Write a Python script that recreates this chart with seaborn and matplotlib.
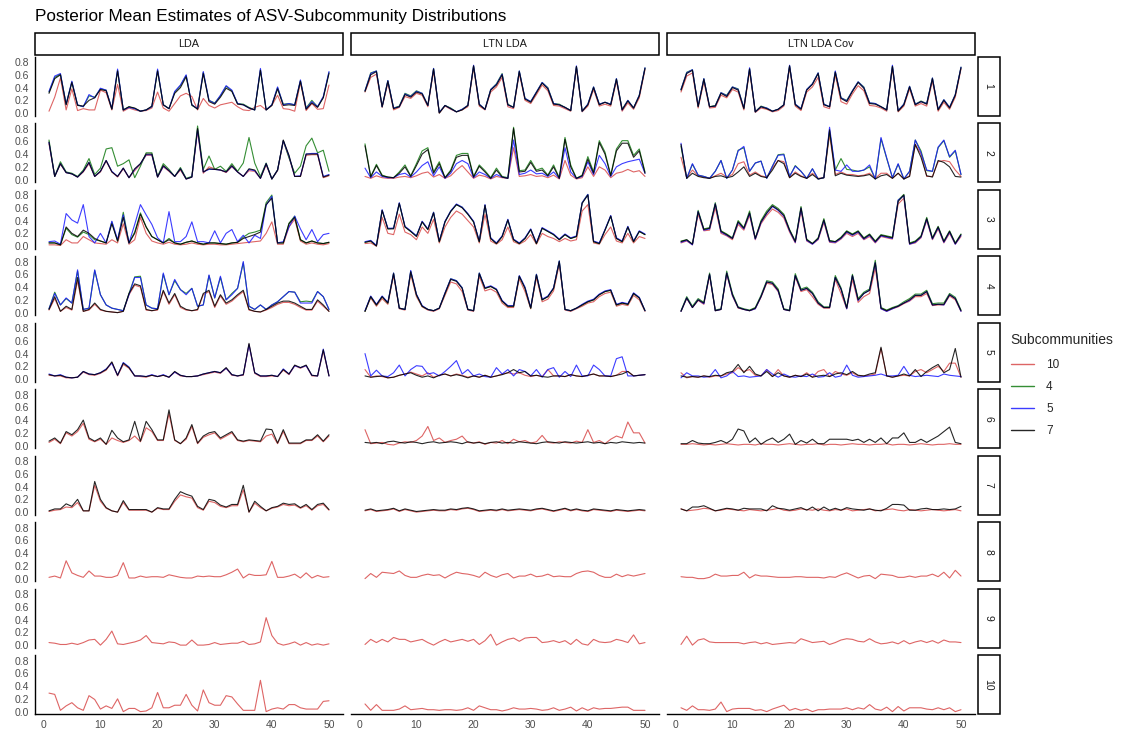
import matplotlib
matplotlib.use("Agg")
import matplotlib.pyplot as plt
import numpy as np
import pandas as pd
import seaborn as sns
from matplotlib.patches import Rectangle
from matplotlib.lines import Line2D

asv = list(range(1, 51))
methods = ["LDA", "LTN LDA", "LTN LDA Cov"]
subcomm_levels = ["10", "4", "5", "7"]
row_labels = [str(i) for i in range(1, 11)]
y_ticks = [0.0, 0.2, 0.4, 0.6, 0.8]
x_ticks = [0, 10, 20, 30, 40, 50]

# ---------------- Row 1 ----------------
lda_r1_k10 = [0.03,0.25,0.55,0.05,0.38,0.04,0.07,0.05,0.05,0.36,0.32,0.05,0.45,0.03,0.08,0.05,0.03,0.04,0.08,0.33,0.08,0.03,0.15,0.27,0.31,0.26,0.05,0.23,0.12,0.08,0.13,0.15,0.17,0.10,0.05,0.04,0.09,0.12,0.05,0.12,0.28,0.07,0.06,0.03,0.48,0.04,0.15,0.06,0.07,0.44]
lda_r1_k4 = [0.33,0.56,0.61,0.14,0.49,0.13,0.10,0.27,0.25,0.38,0.36,0.07,0.67,0.05,0.10,0.07,0.03,0.05,0.10,0.67,0.13,0.07,0.33,0.43,0.59,0.12,0.07,0.64,0.20,0.16,0.27,0.42,0.35,0.15,0.14,0.09,0.05,0.68,0.05,0.13,0.40,0.14,0.15,0.13,0.51,0.08,0.20,0.10,0.25,0.64]
lda_r1_k5 = [0.34,0.58,0.62,0.14,0.50,0.13,0.10,0.29,0.24,0.39,0.36,0.07,0.69,0.05,0.09,0.07,0.03,0.05,0.10,0.69,0.13,0.07,0.34,0.44,0.60,0.13,0.07,0.65,0.20,0.15,0.28,0.43,0.36,0.15,0.13,0.08,0.05,0.70,0.05,0.13,0.41,0.13,0.15,0.13,0.52,0.07,0.18,0.10,0.26,0.65]
lda_r1_k7 = [0.31,0.54,0.60,0.13,0.48,0.12,0.11,0.20,0.24,0.37,0.35,0.06,0.66,0.05,0.10,0.08,0.03,0.05,0.11,0.66,0.13,0.07,0.31,0.40,0.57,0.13,0.06,0.62,0.18,0.14,0.25,0.39,0.34,0.14,0.13,0.08,0.05,0.67,0.05,0.12,0.38,0.12,0.13,0.12,0.50,0.06,0.16,0.09,0.24,0.62]

ltn_r1_k10 = [0.33,0.56,0.61,0.09,0.47,0.05,0.09,0.26,0.23,0.31,0.28,0.10,0.66,0.00,0.11,0.06,0.02,0.05,0.10,0.71,0.11,0.05,0.33,0.41,0.56,0.10,0.07,0.62,0.20,0.15,0.29,0.44,0.35,0.12,0.11,0.07,0.03,0.70,0.02,0.11,0.37,0.11,0.14,0.11,0.50,0.03,0.16,0.06,0.24,0.68]
ltn_r1_k4 = [0.35,0.63,0.66,0.10,0.51,0.08,0.11,0.31,0.27,0.35,0.31,0.12,0.70,0.01,0.12,0.08,0.02,0.06,0.12,0.74,0.14,0.06,0.37,0.46,0.62,0.14,0.09,0.66,0.23,0.18,0.33,0.48,0.40,0.15,0.14,0.09,0.04,0.73,0.03,0.14,0.41,0.14,0.17,0.14,0.54,0.06,0.20,0.08,0.28,0.71]
ltn_r1_k5 = [0.35,0.62,0.66,0.10,0.51,0.08,0.10,0.30,0.26,0.34,0.31,0.12,0.70,0.01,0.12,0.07,0.02,0.06,0.12,0.75,0.14,0.06,0.37,0.45,0.61,0.13,0.09,0.66,0.23,0.18,0.33,0.48,0.39,0.15,0.13,0.09,0.04,0.74,0.03,0.14,0.41,0.14,0.17,0.14,0.54,0.05,0.20,0.08,0.28,0.71]
ltn_r1_k7 = [0.34,0.60,0.65,0.10,0.50,0.07,0.10,0.29,0.25,0.33,0.30,0.12,0.69,0.00,0.12,0.07,0.02,0.05,0.12,0.74,0.13,0.06,0.36,0.44,0.60,0.13,0.09,0.65,0.22,0.17,0.32,0.47,0.38,0.14,0.13,0.09,0.04,0.73,0.03,0.13,0.40,0.13,0.17,0.13,0.53,0.05,0.19,0.08,0.27,0.70]

cov_r1_k10 = [0.33,0.58,0.63,0.08,0.49,0.08,0.09,0.28,0.24,0.37,0.33,0.05,0.66,0.01,0.08,0.06,0.02,0.04,0.11,0.71,0.11,0.04,0.33,0.41,0.56,0.10,0.07,0.60,0.18,0.14,0.30,0.43,0.35,0.12,0.11,0.08,0.03,0.70,0.02,0.11,0.38,0.11,0.15,0.11,0.50,0.03,0.17,0.06,0.25,0.69]
cov_r1_k4 = [0.37,0.64,0.68,0.11,0.54,0.10,0.12,0.32,0.28,0.41,0.38,0.08,0.70,0.02,0.11,0.08,0.03,0.06,0.13,0.74,0.14,0.07,0.37,0.46,0.63,0.14,0.10,0.65,0.24,0.20,0.35,0.49,0.41,0.16,0.15,0.10,0.05,0.74,0.04,0.14,0.42,0.14,0.19,0.15,0.55,0.06,0.21,0.09,0.29,0.72]
cov_r1_k5 = [0.37,0.63,0.68,0.11,0.54,0.10,0.11,0.32,0.27,0.41,0.37,0.08,0.71,0.02,0.10,0.08,0.03,0.06,0.13,0.75,0.14,0.07,0.37,0.46,0.63,0.14,0.10,0.66,0.24,0.19,0.35,0.49,0.40,0.16,0.15,0.10,0.05,0.75,0.04,0.14,0.42,0.14,0.18,0.15,0.55,0.06,0.21,0.09,0.29,0.72]
cov_r1_k7 = [0.36,0.62,0.67,0.10,0.53,0.10,0.11,0.31,0.26,0.40,0.36,0.07,0.69,0.02,0.10,0.07,0.03,0.06,0.13,0.74,0.13,0.06,0.36,0.45,0.62,0.13,0.10,0.64,0.23,0.18,0.34,0.48,0.39,0.15,0.14,0.10,0.05,0.73,0.03,0.13,0.41,0.13,0.18,0.14,0.54,0.05,0.20,0.08,0.28,0.71]

# ---------------- Row 2 ----------------
lda_r2_k10 = [0.56,0.05,0.24,0.11,0.09,0.04,0.12,0.25,0.05,0.12,0.29,0.12,0.04,0.17,0.03,0.14,0.24,0.38,0.38,0.04,0.20,0.13,0.05,0.15,0.01,0.04,0.76,0.10,0.20,0.17,0.15,0.11,0.20,0.12,0.05,0.14,0.13,0.02,0.23,0.01,0.14,0.60,0.35,0.05,0.05,0.38,0.39,0.39,0.03,0.06]
lda_r2_k4 = [0.62,0.05,0.28,0.12,0.10,0.05,0.15,0.33,0.08,0.18,0.48,0.50,0.21,0.25,0.31,0.03,0.21,0.42,0.42,0.05,0.25,0.16,0.05,0.19,0.02,0.05,0.84,0.16,0.37,0.16,0.21,0.13,0.25,0.13,0.26,0.66,0.26,0.05,0.26,0.01,0.15,0.61,0.34,0.10,0.21,0.53,0.65,0.42,0.46,0.13]
lda_r2_k5 = [0.58,0.05,0.25,0.11,0.09,0.04,0.13,0.27,0.05,0.13,0.30,0.13,0.05,0.18,0.03,0.16,0.25,0.39,0.39,0.04,0.21,0.14,0.05,0.17,0.01,0.04,0.78,0.12,0.16,0.16,0.15,0.12,0.21,0.12,0.05,0.16,0.14,0.02,0.25,0.01,0.15,0.61,0.37,0.05,0.06,0.40,0.41,0.41,0.05,0.08]
lda_r2_k7 = [0.59,0.05,0.25,0.11,0.09,0.04,0.13,0.27,0.05,0.13,0.30,0.12,0.05,0.18,0.03,0.17,0.25,0.40,0.40,0.04,0.22,0.14,0.05,0.17,0.01,0.04,0.80,0.12,0.17,0.16,0.15,0.12,0.22,0.12,0.05,0.17,0.15,0.02,0.25,0.01,0.15,0.62,0.38,0.05,0.05,0.40,0.40,0.40,0.04,0.07]

ltn_r2_k10 = [0.05,0.02,0.06,0.03,0.02,0.02,0.04,0.05,0.03,0.06,0.10,0.12,0.04,0.08,0.02,0.06,0.15,0.22,0.12,0.02,0.07,0.05,0.01,0.05,0.03,0.02,0.50,0.05,0.06,0.08,0.05,0.06,0.03,0.07,0.01,0.30,0.07,0.01,0.03,0.20,0.05,0.20,0.15,0.03,0.10,0.12,0.16,0.12,0.14,0.05]
ltn_r2_k4 = [0.56,0.05,0.24,0.07,0.04,0.03,0.12,0.23,0.06,0.25,0.45,0.50,0.12,0.28,0.03,0.15,0.38,0.41,0.41,0.05,0.23,0.14,0.03,0.18,0.05,0.03,0.82,0.14,0.15,0.30,0.15,0.18,0.07,0.23,0.03,0.66,0.23,0.02,0.07,0.36,0.12,0.61,0.43,0.07,0.48,0.61,0.61,0.38,0.48,0.12]
ltn_r2_k5 = [0.18,0.03,0.12,0.05,0.03,0.03,0.08,0.10,0.04,0.12,0.22,0.28,0.06,0.20,0.02,0.10,0.25,0.30,0.25,0.03,0.12,0.08,0.02,0.08,0.04,0.02,0.62,0.08,0.10,0.15,0.09,0.10,0.05,0.12,0.02,0.50,0.12,0.02,0.05,0.28,0.08,0.38,0.25,0.05,0.20,0.25,0.28,0.30,0.32,0.10]
ltn_r2_k7 = [0.53,0.04,0.22,0.06,0.04,0.03,0.10,0.20,0.05,0.22,0.40,0.47,0.10,0.25,0.03,0.13,0.35,0.38,0.38,0.04,0.21,0.12,0.02,0.15,0.04,0.02,0.80,0.12,0.13,0.27,0.13,0.15,0.06,0.20,0.02,0.63,0.20,0.02,0.06,0.32,0.10,0.58,0.40,0.06,0.45,0.57,0.57,0.35,0.45,0.10]

cov_r2_k10 = [0.35,0.03,0.15,0.06,0.04,0.02,0.06,0.10,0.04,0.08,0.25,0.28,0.07,0.12,0.06,0.04,0.18,0.30,0.28,0.03,0.12,0.06,0.02,0.10,0.02,0.03,0.70,0.08,0.12,0.08,0.08,0.06,0.07,0.10,0.02,0.10,0.10,0.02,0.10,0.01,0.06,0.55,0.40,0.05,0.05,0.28,0.30,0.28,0.15,0.05]
cov_r2_k4 = [0.52,0.02,0.24,0.07,0.05,0.02,0.13,0.30,0.02,0.15,0.46,0.50,0.13,0.26,0.29,0.02,0.21,0.39,0.40,0.05,0.22,0.13,0.02,0.17,0.01,0.03,0.76,0.15,0.33,0.16,0.15,0.13,0.15,0.20,0.01,0.64,0.33,0.03,0.24,0.01,0.13,0.62,0.45,0.14,0.13,0.50,0.61,0.35,0.45,0.08]
cov_r2_k5 = [0.57,0.02,0.25,0.07,0.05,0.02,0.13,0.30,0.02,0.15,0.45,0.52,0.13,0.26,0.29,0.02,0.21,0.38,0.39,0.05,0.21,0.13,0.02,0.17,0.01,0.03,0.82,0.15,0.13,0.23,0.13,0.13,0.15,0.23,0.01,0.66,0.34,0.03,0.25,0.01,0.13,0.62,0.42,0.15,0.13,0.51,0.62,0.36,0.46,0.08]
cov_r2_k7 = [0.55,0.02,0.10,0.05,0.03,0.02,0.05,0.06,0.03,0.05,0.12,0.20,0.05,0.10,0.05,0.03,0.15,0.30,0.25,0.03,0.10,0.05,0.02,0.08,0.01,0.03,0.78,0.06,0.10,0.07,0.06,0.05,0.06,0.08,0.01,0.06,0.08,0.02,0.10,0.01,0.05,0.55,0.35,0.06,0.04,0.30,0.27,0.20,0.05,0.04]

# ---------------- Row 3 ----------------
lda_r3_k10 = [0.02,0.02,0.01,0.10,0.05,0.05,0.15,0.10,0.05,0.04,0.03,0.10,0.05,0.35,0.03,0.10,0.45,0.20,0.08,0.05,0.03,0.06,0.03,0.02,0.03,0.05,0.03,0.02,0.03,0.03,0.02,0.02,0.03,0.04,0.05,0.06,0.07,0.08,0.20,0.38,0.03,0.03,0.30,0.42,0.08,0.03,0.05,0.03,0.02,0.04]
lda_r3_k4 = [0.05,0.05,0.02,0.28,0.18,0.14,0.22,0.18,0.10,0.08,0.05,0.38,0.08,0.53,0.05,0.22,0.52,0.30,0.15,0.10,0.05,0.12,0.05,0.03,0.06,0.08,0.05,0.03,0.05,0.05,0.04,0.03,0.05,0.06,0.14,0.20,0.22,0.25,0.68,0.80,0.05,0.05,0.36,0.47,0.10,0.05,0.08,0.05,0.04,0.06]
lda_r3_k5 = [0.07,0.08,0.03,0.51,0.41,0.36,0.65,0.15,0.05,0.20,0.05,0.39,0.10,0.49,0.05,0.34,0.65,0.49,0.34,0.13,0.05,0.54,0.07,0.07,0.15,0.38,0.07,0.07,0.05,0.24,0.05,0.20,0.26,0.07,0.17,0.05,0.17,0.12,0.64,0.78,0.05,0.07,0.30,0.47,0.27,0.10,0.26,0.07,0.18,0.20]
lda_r3_k7 = [0.05,0.05,0.02,0.30,0.20,0.15,0.25,0.20,0.12,0.08,0.05,0.35,0.08,0.45,0.05,0.20,0.50,0.30,0.15,0.10,0.05,0.10,0.05,0.03,0.06,0.08,0.05,0.03,0.05,0.05,0.04,0.03,0.05,0.06,0.12,0.15,0.18,0.22,0.65,0.75,0.05,0.05,0.35,0.45,0.10,0.05,0.08,0.05,0.04,0.06]

ltn_r3_k10 = [0.04,0.05,0.00,0.45,0.20,0.18,0.50,0.22,0.18,0.10,0.30,0.20,0.42,0.05,0.30,0.45,0.55,0.50,0.40,0.30,0.05,0.50,0.08,0.03,0.10,0.30,0.07,0.03,0.08,0.18,0.03,0.20,0.15,0.12,0.07,0.12,0.08,0.10,0.55,0.65,0.05,0.03,0.18,0.30,0.08,0.05,0.20,0.05,0.15,0.12]
ltn_r3_k4 = [0.06,0.08,0.01,0.56,0.27,0.28,0.67,0.30,0.23,0.16,0.38,0.26,0.53,0.07,0.38,0.55,0.65,0.61,0.50,0.38,0.07,0.64,0.12,0.04,0.15,0.41,0.10,0.04,0.12,0.26,0.04,0.28,0.23,0.18,0.10,0.18,0.12,0.15,0.68,0.81,0.07,0.04,0.25,0.47,0.12,0.07,0.30,0.07,0.23,0.18]
ltn_r3_k5 = [0.07,0.09,0.01,0.57,0.28,0.28,0.68,0.31,0.24,0.16,0.39,0.27,0.53,0.08,0.39,0.55,0.66,0.61,0.51,0.39,0.08,0.65,0.13,0.05,0.16,0.42,0.11,0.05,0.13,0.27,0.05,0.29,0.24,0.19,0.11,0.19,0.13,0.16,0.68,0.81,0.08,0.05,0.26,0.48,0.13,0.08,0.31,0.08,0.24,0.19]
ltn_r3_k7 = [0.06,0.08,0.00,0.56,0.27,0.27,0.67,0.30,0.23,0.15,0.38,0.26,0.52,0.07,0.38,0.54,0.65,0.60,0.50,0.38,0.07,0.64,0.12,0.04,0.15,0.41,0.10,0.04,0.12,0.26,0.04,0.28,0.23,0.18,0.10,0.18,0.12,0.15,0.67,0.80,0.07,0.04,0.25,0.47,0.12,0.07,0.30,0.07,0.23,0.18]

cov_r3_k10 = [0.05,0.08,0.02,0.50,0.24,0.25,0.60,0.20,0.16,0.10,0.34,0.25,0.48,0.10,0.35,0.48,0.58,0.53,0.44,0.22,0.05,0.55,0.08,0.03,0.10,0.37,0.06,0.05,0.11,0.20,0.15,0.20,0.10,0.15,0.05,0.15,0.13,0.11,0.66,0.75,0.03,0.05,0.13,0.40,0.10,0.27,0.05,0.20,0.03,0.15]
cov_r3_k4 = [0.08,0.10,0.03,0.56,0.27,0.29,0.68,0.24,0.19,0.13,0.40,0.29,0.55,0.12,0.40,0.55,0.65,0.59,0.50,0.26,0.08,0.62,0.11,0.04,0.13,0.43,0.09,0.07,0.14,0.24,0.19,0.24,0.13,0.19,0.08,0.18,0.16,0.14,0.72,0.81,0.05,0.08,0.16,0.45,0.13,0.31,0.08,0.24,0.05,0.19]
cov_r3_k5 = [0.06,0.09,0.02,0.54,0.25,0.27,0.66,0.22,0.17,0.12,0.37,0.27,0.51,0.11,0.37,0.51,0.62,0.56,0.47,0.24,0.06,0.59,0.09,0.03,0.11,0.40,0.07,0.06,0.12,0.22,0.17,0.22,0.11,0.17,0.06,0.16,0.14,0.12,0.72,0.79,0.03,0.06,0.14,0.42,0.11,0.29,0.06,0.22,0.03,0.17]
cov_r3_k7 = [0.07,0.10,0.03,0.54,0.26,0.28,0.66,0.23,0.18,0.12,0.38,0.28,0.52,0.12,0.38,0.52,0.63,0.57,0.48,0.25,0.07,0.60,0.10,0.04,0.12,0.41,0.08,0.07,0.13,0.23,0.18,0.23,0.12,0.18,0.07,0.17,0.15,0.13,0.70,0.80,0.04,0.07,0.15,0.43,0.12,0.30,0.07,0.23,0.04,0.18]

# ---------------- Row 4 ----------------
lda_r4_k10 = [0.04,0.22,0.02,0.08,0.04,0.50,0.02,0.04,0.13,0.04,0.02,0.01,0.00,0.02,0.28,0.43,0.40,0.04,0.03,0.04,0.33,0.13,0.28,0.08,0.04,0.03,0.04,0.28,0.33,0.08,0.26,0.13,0.18,0.26,0.33,0.04,0.02,0.01,0.04,0.08,0.13,0.16,0.16,0.13,0.08,0.04,0.04,0.18,0.10,0.02]
lda_r4_k4 = [0.06,0.32,0.12,0.22,0.15,0.65,0.05,0.07,0.66,0.28,0.12,0.07,0.05,0.03,0.30,0.56,0.57,0.12,0.07,0.06,0.60,0.28,0.50,0.36,0.30,0.38,0.10,0.12,0.58,0.23,0.55,0.20,0.30,0.38,0.78,0.10,0.05,0.12,0.05,0.12,0.17,0.25,0.33,0.32,0.17,0.18,0.17,0.33,0.25,0.05]
lda_r4_k5 = [0.06,0.30,0.12,0.23,0.15,0.67,0.05,0.07,0.67,0.28,0.12,0.07,0.05,0.03,0.28,0.55,0.55,0.12,0.07,0.06,0.62,0.28,0.52,0.36,0.28,0.38,0.10,0.12,0.59,0.23,0.57,0.20,0.28,0.38,0.80,0.10,0.05,0.12,0.05,0.12,0.17,0.25,0.33,0.32,0.15,0.15,0.15,0.33,0.25,0.05]
lda_r4_k7 = [0.05,0.25,0.02,0.10,0.05,0.55,0.02,0.05,0.15,0.05,0.02,0.01,0.00,0.02,0.30,0.45,0.42,0.05,0.03,0.05,0.35,0.15,0.30,0.10,0.05,0.03,0.05,0.30,0.35,0.10,0.28,0.15,0.20,0.28,0.35,0.05,0.02,0.01,0.05,0.10,0.15,0.18,0.18,0.15,0.10,0.05,0.05,0.20,0.12,0.02]

ltn_r4_k10 = [0.02,0.23,0.10,0.22,0.13,0.58,0.06,0.04,0.60,0.25,0.09,0.04,0.02,0.06,0.27,0.48,0.45,0.33,0.04,0.02,0.57,0.34,0.37,0.32,0.15,0.08,0.08,0.53,0.33,0.06,0.55,0.17,0.21,0.34,0.76,0.04,0.02,0.06,0.10,0.15,0.17,0.25,0.30,0.32,0.10,0.13,0.11,0.27,0.20,0.02]
ltn_r4_k4 = [0.02,0.25,0.12,0.25,0.15,0.62,0.07,0.05,0.65,0.28,0.10,0.05,0.03,0.07,0.30,0.53,0.50,0.39,0.05,0.03,0.62,0.38,0.41,0.36,0.18,0.10,0.10,0.57,0.39,0.07,0.60,0.20,0.25,0.38,0.81,0.05,0.03,0.07,0.12,0.17,0.20,0.28,0.33,0.35,0.12,0.15,0.13,0.30,0.23,0.03]
ltn_r4_k5 = [0.03,0.26,0.13,0.26,0.16,0.62,0.07,0.05,0.66,0.29,0.11,0.05,0.03,0.07,0.31,0.53,0.50,0.39,0.05,0.03,0.62,0.39,0.42,0.37,0.19,0.11,0.11,0.58,0.40,0.08,0.60,0.21,0.26,0.39,0.81,0.05,0.03,0.07,0.13,0.18,0.21,0.29,0.34,0.36,0.13,0.16,0.14,0.31,0.24,0.03]
ltn_r4_k7 = [0.02,0.25,0.12,0.25,0.15,0.61,0.07,0.05,0.64,0.28,0.10,0.05,0.03,0.07,0.30,0.52,0.49,0.38,0.05,0.03,0.61,0.38,0.41,0.36,0.18,0.10,0.10,0.57,0.38,0.07,0.59,0.20,0.25,0.38,0.80,0.05,0.03,0.07,0.12,0.17,0.20,0.28,0.33,0.35,0.12,0.15,0.13,0.30,0.23,0.03]

cov_r4_k10 = [0.02,0.22,0.08,0.19,0.13,0.58,0.03,0.05,0.60,0.26,0.07,0.05,0.03,0.06,0.24,0.46,0.44,0.33,0.05,0.03,0.56,0.33,0.36,0.25,0.13,0.07,0.07,0.52,0.30,0.06,0.52,0.16,0.25,0.30,0.70,0.06,0.02,0.06,0.09,0.14,0.18,0.25,0.25,0.30,0.11,0.12,0.12,0.26,0.20,0.02]
cov_r4_k4 = [0.03,0.25,0.10,0.22,0.16,0.62,0.04,0.06,0.65,0.30,0.09,0.06,0.04,0.08,0.27,0.50,0.48,0.37,0.06,0.04,0.61,0.37,0.40,0.32,0.17,0.09,0.09,0.58,0.39,0.08,0.60,0.22,0.32,0.37,0.82,0.08,0.04,0.08,0.11,0.17,0.22,0.29,0.29,0.35,0.14,0.15,0.15,0.30,0.24,0.04]
cov_r4_k5 = [0.02,0.23,0.08,0.20,0.14,0.60,0.03,0.05,0.62,0.27,0.08,0.05,0.03,0.06,0.25,0.48,0.46,0.34,0.05,0.03,0.58,0.35,0.38,0.30,0.15,0.08,0.08,0.55,0.37,0.06,0.58,0.19,0.30,0.35,0.78,0.06,0.02,0.06,0.10,0.15,0.19,0.27,0.27,0.33,0.12,0.13,0.12,0.28,0.22,0.02]
cov_r4_k7 = [0.02,0.23,0.08,0.20,0.15,0.60,0.03,0.05,0.62,0.28,0.08,0.05,0.03,0.07,0.25,0.48,0.46,0.35,0.05,0.03,0.58,0.35,0.38,0.30,0.15,0.08,0.08,0.55,0.37,0.07,0.58,0.20,0.30,0.35,0.78,0.07,0.03,0.07,0.10,0.15,0.20,0.27,0.27,0.33,0.12,0.13,0.13,0.28,0.22,0.03]

# ---------------- Row 5 ----------------
lda_r5_k10 = [0.06,0.05,0.05,0.02,0.02,0.03,0.11,0.07,0.06,0.09,0.14,0.26,0.05,0.23,0.17,0.05,0.04,0.03,0.06,0.04,0.06,0.03,0.11,0.05,0.04,0.04,0.05,0.07,0.09,0.11,0.09,0.17,0.06,0.05,0.06,0.54,0.09,0.04,0.04,0.05,0.04,0.14,0.07,0.21,0.17,0.21,0.05,0.05,0.44,0.05]
lda_r5_k5 = [0.08,0.05,0.07,0.03,0.02,0.03,0.12,0.08,0.07,0.10,0.16,0.25,0.06,0.26,0.19,0.05,0.05,0.04,0.07,0.04,0.07,0.03,0.11,0.06,0.04,0.04,0.05,0.08,0.10,0.12,0.10,0.17,0.07,0.05,0.07,0.54,0.10,0.05,0.05,0.06,0.04,0.16,0.08,0.21,0.18,0.21,0.06,0.05,0.47,0.05]
lda_r5_k7 = [0.07,0.05,0.06,0.03,0.02,0.03,0.12,0.08,0.07,0.10,0.15,0.27,0.06,0.25,0.18,0.05,0.05,0.04,0.06,0.04,0.06,0.03,0.12,0.06,0.04,0.04,0.05,0.08,0.10,0.12,0.10,0.18,0.07,0.05,0.07,0.56,0.10,0.05,0.05,0.06,0.04,0.15,0.08,0.22,0.18,0.22,0.06,0.05,0.46,0.05]

ltn_r5_k10 = [0.15,0.03,0.05,0.04,0.02,0.03,0.06,0.08,0.11,0.08,0.05,0.10,0.03,0.06,0.08,0.05,0.08,0.06,0.03,0.05,0.03,0.06,0.03,0.05,0.08,0.10,0.08,0.10,0.06,0.04,0.06,0.04,0.15,0.05,0.05,0.04,0.07,0.05,0.04,0.06,0.08,0.05,0.05,0.04,0.06,0.12,0.12,0.05,0.06,0.07]
ltn_r5_k5 = [0.40,0.05,0.14,0.05,0.04,0.10,0.22,0.05,0.15,0.21,0.20,0.08,0.10,0.05,0.12,0.20,0.29,0.08,0.15,0.05,0.08,0.04,0.03,0.18,0.08,0.15,0.05,0.15,0.12,0.05,0.15,0.03,0.15,0.18,0.03,0.12,0.04,0.22,0.05,0.05,0.22,0.15,0.05,0.05,0.32,0.35,0.05,0.05,0.06,0.07]
ltn_r5_k7 = [0.05,0.03,0.04,0.05,0.02,0.03,0.06,0.08,0.10,0.06,0.03,0.05,0.02,0.06,0.08,0.05,0.07,0.05,0.02,0.05,0.03,0.06,0.03,0.05,0.07,0.10,0.15,0.10,0.12,0.05,0.06,0.04,0.03,0.05,0.05,0.04,0.07,0.05,0.04,0.06,0.08,0.05,0.05,0.04,0.06,0.08,0.12,0.05,0.06,0.07]

cov_r5_k10 = [0.10,0.02,0.04,0.03,0.05,0.03,0.05,0.05,0.08,0.10,0.18,0.12,0.15,0.06,0.05,0.15,0.04,0.15,0.05,0.03,0.06,0.04,0.10,0.03,0.12,0.15,0.04,0.12,0.08,0.06,0.10,0.05,0.05,0.06,0.08,0.48,0.05,0.03,0.05,0.06,0.05,0.12,0.15,0.10,0.15,0.20,0.12,0.25,0.25,0.03]
cov_r5_k5 = [0.02,0.10,0.05,0.05,0.03,0.04,0.15,0.02,0.05,0.12,0.04,0.05,0.03,0.04,0.05,0.15,0.08,0.03,0.08,0.04,0.03,0.05,0.04,0.08,0.03,0.04,0.10,0.03,0.05,0.22,0.06,0.03,0.04,0.05,0.06,0.08,0.05,0.05,0.06,0.20,0.06,0.04,0.05,0.06,0.05,0.04,0.08,0.06,0.05,0.04]
cov_r5_k7 = [0.05,0.03,0.04,0.03,0.05,0.04,0.06,0.05,0.10,0.12,0.23,0.10,0.20,0.08,0.05,0.12,0.04,0.10,0.05,0.03,0.06,0.04,0.08,0.03,0.05,0.06,0.04,0.08,0.10,0.07,0.12,0.06,0.05,0.08,0.10,0.50,0.05,0.03,0.05,0.08,0.05,0.15,0.04,0.12,0.18,0.23,0.10,0.15,0.48,0.03]

# ---------------- Row 6 ----------------
lda_r6_k10 = [0.05,0.10,0.03,0.20,0.15,0.22,0.35,0.10,0.06,0.10,0.02,0.12,0.08,0.05,0.08,0.15,0.06,0.28,0.22,0.08,0.08,0.50,0.08,0.03,0.10,0.30,0.03,0.13,0.17,0.20,0.10,0.15,0.20,0.08,0.06,0.08,0.07,0.06,0.15,0.18,0.03,0.22,0.03,0.03,0.03,0.08,0.08,0.15,0.06,0.15]
lda_r6_k7 = [0.07,0.12,0.04,0.22,0.17,0.25,0.40,0.12,0.07,0.12,0.02,0.24,0.12,0.06,0.09,0.38,0.07,0.38,0.25,0.09,0.09,0.56,0.09,0.03,0.12,0.33,0.04,0.15,0.20,0.22,0.12,0.17,0.22,0.09,0.07,0.09,0.08,0.07,0.26,0.25,0.04,0.25,0.04,0.04,0.04,0.09,0.09,0.17,0.07,0.17]

ltn_r6_k10 = [0.25,0.03,0.04,0.05,0.02,0.01,0.04,0.06,0.05,0.08,0.15,0.30,0.08,0.12,0.05,0.08,0.10,0.15,0.05,0.04,0.06,0.02,0.05,0.04,0.08,0.03,0.10,0.06,0.08,0.04,0.06,0.16,0.05,0.04,0.06,0.05,0.04,0.07,0.05,0.25,0.05,0.08,0.03,0.10,0.15,0.12,0.37,0.20,0.20,0.04]
ltn_r6_k7 = [0.05,0.04,0.05,0.03,0.06,0.07,0.05,0.04,0.06,0.05,0.03,0.05,0.06,0.04,0.05,0.06,0.05,0.03,0.06,0.04,0.05,0.03,0.05,0.06,0.04,0.05,0.04,0.06,0.05,0.04,0.03,0.05,0.06,0.05,0.04,0.06,0.05,0.04,0.05,0.06,0.04,0.05,0.03,0.05,0.04,0.06,0.05,0.04,0.05,0.04]

cov_r6_k10 = [0.02,0.02,0.03,0.02,0.01,0.02,0.01,0.02,0.03,0.02,0.01,0.02,0.02,0.01,0.03,0.02,0.02,0.01,0.02,0.03,0.02,0.01,0.02,0.02,0.03,0.01,0.02,0.02,0.01,0.02,0.03,0.02,0.02,0.01,0.02,0.02,0.03,0.01,0.02,0.02,0.01,0.02,0.03,0.02,0.01,0.02,0.02,0.03,0.02,0.02]
cov_r6_k7 = [0.03,0.03,0.08,0.04,0.03,0.03,0.05,0.08,0.04,0.10,0.26,0.23,0.05,0.12,0.02,0.08,0.12,0.05,0.10,0.18,0.02,0.08,0.04,0.10,0.03,0.03,0.10,0.10,0.10,0.10,0.08,0.10,0.05,0.10,0.05,0.12,0.03,0.12,0.12,0.20,0.05,0.05,0.10,0.05,0.10,0.15,0.22,0.29,0.05,0.03]

# ---------------- Row 7 ----------------
lda_r7_k10 = [0.01,0.03,0.04,0.08,0.07,0.15,0.02,0.02,0.42,0.17,0.06,0.02,0.00,0.15,0.03,0.03,0.03,0.03,0.00,0.06,0.04,0.04,0.17,0.27,0.24,0.22,0.07,0.03,0.17,0.15,0.09,0.07,0.10,0.10,0.35,0.00,0.14,0.07,0.02,0.06,0.08,0.12,0.10,0.11,0.06,0.10,0.03,0.10,0.12,0.03]
lda_r7_k7 = [0.02,0.05,0.05,0.13,0.09,0.20,0.02,0.02,0.48,0.20,0.07,0.02,0.00,0.18,0.04,0.04,0.04,0.04,0.00,0.07,0.05,0.05,0.20,0.32,0.28,0.25,0.09,0.04,0.20,0.18,0.11,0.08,0.12,0.12,0.42,0.00,0.17,0.09,0.02,0.07,0.09,0.14,0.12,0.13,0.07,0.12,0.04,0.12,0.14,0.04]

ltn_r7_k10 = [0.02,0.04,0.01,0.02,0.03,0.05,0.01,0.04,0.02,0.00,0.01,0.02,0.03,0.02,0.02,0.04,0.03,0.05,0.06,0.04,0.01,0.02,0.03,0.02,0.04,0.02,0.03,0.04,0.03,0.02,0.04,0.05,0.03,0.01,0.03,0.05,0.02,0.04,0.02,0.01,0.04,0.03,0.02,0.01,0.03,0.02,0.01,0.02,0.03,0.02]
ltn_r7_k7 = [0.03,0.05,0.02,0.03,0.04,0.06,0.02,0.05,0.03,0.01,0.02,0.03,0.04,0.03,0.03,0.05,0.04,0.06,0.07,0.05,0.02,0.03,0.04,0.03,0.05,0.03,0.04,0.05,0.04,0.03,0.05,0.06,0.04,0.02,0.04,0.06,0.03,0.05,0.03,0.02,0.05,0.04,0.03,0.02,0.04,0.03,0.02,0.03,0.04,0.03]

cov_r7_k10 = [0.05,0.02,0.03,0.04,0.06,0.05,0.02,0.03,0.05,0.04,0.03,0.02,0.04,0.03,0.02,0.03,0.04,0.06,0.03,0.02,0.03,0.05,0.04,0.03,0.05,0.03,0.02,0.04,0.03,0.05,0.02,0.03,0.04,0.05,0.02,0.03,0.04,0.05,0.03,0.02,0.04,0.03,0.02,0.03,0.04,0.03,0.02,0.03,0.04,0.02]
cov_r7_k7 = [0.05,0.02,0.08,0.08,0.10,0.06,0.02,0.04,0.06,0.05,0.03,0.06,0.05,0.05,0.05,0.02,0.10,0.06,0.05,0.03,0.05,0.07,0.03,0.08,0.02,0.08,0.03,0.06,0.03,0.07,0.05,0.04,0.03,0.05,0.03,0.02,0.06,0.12,0.12,0.11,0.03,0.03,0.05,0.06,0.04,0.04,0.05,0.04,0.05,0.09]

# ---------------- Rows 8-10 (only K = 10) ----------------
lda_r8_k10 = [0.02,0.04,0.01,0.28,0.09,0.05,0.02,0.12,0.04,0.04,0.02,0.02,0.05,0.25,0.01,0.01,0.04,0.02,0.03,0.03,0.02,0.06,0.04,0.02,0.01,0.01,0.04,0.03,0.04,0.03,0.03,0.06,0.10,0.15,0.01,0.07,0.05,0.05,0.06,0.27,0.02,0.02,0.04,0.07,0.01,0.09,0.01,0.05,0.02,0.03]
ltn_r8_k10 = [0.00,0.08,0.02,0.10,0.09,0.08,0.12,0.05,0.02,0.02,0.05,0.07,0.05,0.06,0.01,0.06,0.10,0.08,0.07,0.05,0.02,0.10,0.05,0.02,0.06,0.08,0.01,0.04,0.04,0.07,0.03,0.04,0.07,0.03,0.04,0.03,0.03,0.08,0.11,0.12,0.10,0.05,0.02,0.02,0.07,0.03,0.06,0.04,0.06,0.08]
cov_r8_k10 = [0.03,0.02,0.02,0.00,0.00,0.02,0.07,0.04,0.04,0.05,0.05,0.10,0.01,0.06,0.04,0.04,0.03,0.02,0.02,0.02,0.03,0.03,0.02,0.02,0.02,0.01,0.03,0.02,0.06,0.09,0.05,0.01,0.04,0.05,0.00,0.07,0.06,0.05,0.02,0.02,0.04,0.02,0.04,0.04,0.07,0.03,0.10,0.01,0.13,0.04]

lda_r9_k10 = [0.04,0.03,0.01,0.01,0.03,0.01,0.04,0.08,0.09,0.00,0.09,0.22,0.02,0.01,0.03,0.05,0.08,0.15,0.04,0.03,0.02,0.05,0.04,0.00,0.00,0.08,0.00,0.00,0.01,0.04,0.01,0.02,0.03,0.03,0.06,0.01,0.02,0.05,0.43,0.15,0.03,0.00,0.02,0.05,0.00,0.04,0.00,0.02,0.00,0.02]
ltn_r9_k10 = [0.01,0.09,0.04,0.09,0.05,0.12,0.09,0.09,0.05,0.07,0.09,0.04,0.00,0.05,0.09,0.05,0.07,0.09,0.06,0.09,0.01,0.07,0.17,0.00,0.05,0.09,0.11,0.06,0.11,0.12,0.12,0.04,0.05,0.07,0.04,0.07,0.01,0.09,0.02,0.00,0.09,0.05,0.04,0.05,0.09,0.07,0.04,0.16,0.02,0.04]
cov_r9_k10 = [0.01,0.14,0.00,0.08,0.10,0.05,0.04,0.04,0.04,0.04,0.04,0.02,0.04,0.05,0.02,0.04,0.01,0.02,0.03,0.04,0.03,0.10,0.07,0.04,0.05,0.06,0.01,0.04,0.08,0.10,0.09,0.06,0.05,0.10,0.05,0.02,0.03,0.05,0.02,0.07,0.02,0.05,0.07,0.04,0.07,0.03,0.08,0.05,0.05,0.04]

lda_r10_k10 = [0.29,0.27,0.02,0.09,0.14,0.06,0.02,0.25,0.19,0.04,0.09,0.05,0.20,0.00,0.05,0.05,0.00,0.01,0.06,0.30,0.06,0.06,0.10,0.10,0.27,0.10,0.01,0.34,0.14,0.10,0.10,0.25,0.23,0.12,0.02,0.02,0.02,0.49,0.00,0.04,0.06,0.04,0.11,0.11,0.06,0.04,0.04,0.04,0.16,0.17]
ltn_r10_k10 = [0.12,0.02,0.11,0.02,0.02,0.02,0.04,0.09,0.03,0.04,0.05,0.03,0.03,0.02,0.03,0.03,0.02,0.03,0.06,0.02,0.09,0.06,0.03,0.03,0.01,0.03,0.06,0.04,0.04,0.05,0.04,0.02,0.03,0.06,0.02,0.04,0.07,0.01,0.06,0.02,0.06,0.04,0.05,0.05,0.06,0.07,0.07,0.02,0.02,0.02]
cov_r10_k10 = [0.06,0.02,0.09,0.03,0.03,0.02,0.04,0.15,0.00,0.04,0.05,0.05,0.05,0.02,0.03,0.00,0.04,0.07,0.10,0.02,0.05,0.02,0.04,0.00,0.03,0.03,0.04,0.04,0.04,0.06,0.03,0.06,0.04,0.11,0.04,0.02,0.07,0.00,0.08,0.01,0.06,0.06,0.06,0.04,0.03,0.06,0.03,0.06,0.00,0.03]

series_table = [
    ("LDA", "1", "10", lda_r1_k10), ("LDA", "1", "4", lda_r1_k4), ("LDA", "1", "5", lda_r1_k5), ("LDA", "1", "7", lda_r1_k7),
    ("LTN LDA", "1", "10", ltn_r1_k10), ("LTN LDA", "1", "4", ltn_r1_k4), ("LTN LDA", "1", "5", ltn_r1_k5), ("LTN LDA", "1", "7", ltn_r1_k7),
    ("LTN LDA Cov", "1", "10", cov_r1_k10), ("LTN LDA Cov", "1", "4", cov_r1_k4), ("LTN LDA Cov", "1", "5", cov_r1_k5), ("LTN LDA Cov", "1", "7", cov_r1_k7),
    ("LDA", "2", "10", lda_r2_k10), ("LDA", "2", "4", lda_r2_k4), ("LDA", "2", "5", lda_r2_k5), ("LDA", "2", "7", lda_r2_k7),
    ("LTN LDA", "2", "10", ltn_r2_k10), ("LTN LDA", "2", "4", ltn_r2_k4), ("LTN LDA", "2", "5", ltn_r2_k5), ("LTN LDA", "2", "7", ltn_r2_k7),
    ("LTN LDA Cov", "2", "10", cov_r2_k10), ("LTN LDA Cov", "2", "4", cov_r2_k4), ("LTN LDA Cov", "2", "5", cov_r2_k5), ("LTN LDA Cov", "2", "7", cov_r2_k7),
    ("LDA", "3", "10", lda_r3_k10), ("LDA", "3", "4", lda_r3_k4), ("LDA", "3", "5", lda_r3_k5), ("LDA", "3", "7", lda_r3_k7),
    ("LTN LDA", "3", "10", ltn_r3_k10), ("LTN LDA", "3", "4", ltn_r3_k4), ("LTN LDA", "3", "5", ltn_r3_k5), ("LTN LDA", "3", "7", ltn_r3_k7),
    ("LTN LDA Cov", "3", "10", cov_r3_k10), ("LTN LDA Cov", "3", "4", cov_r3_k4), ("LTN LDA Cov", "3", "5", cov_r3_k5), ("LTN LDA Cov", "3", "7", cov_r3_k7),
    ("LDA", "4", "10", lda_r4_k10), ("LDA", "4", "4", lda_r4_k4), ("LDA", "4", "5", lda_r4_k5), ("LDA", "4", "7", lda_r4_k7),
    ("LTN LDA", "4", "10", ltn_r4_k10), ("LTN LDA", "4", "4", ltn_r4_k4), ("LTN LDA", "4", "5", ltn_r4_k5), ("LTN LDA", "4", "7", ltn_r4_k7),
    ("LTN LDA Cov", "4", "10", cov_r4_k10), ("LTN LDA Cov", "4", "4", cov_r4_k4), ("LTN LDA Cov", "4", "5", cov_r4_k5), ("LTN LDA Cov", "4", "7", cov_r4_k7),
    ("LDA", "5", "10", lda_r5_k10), ("LDA", "5", "5", lda_r5_k5), ("LDA", "5", "7", lda_r5_k7),
    ("LTN LDA", "5", "10", ltn_r5_k10), ("LTN LDA", "5", "5", ltn_r5_k5), ("LTN LDA", "5", "7", ltn_r5_k7),
    ("LTN LDA Cov", "5", "10", cov_r5_k10), ("LTN LDA Cov", "5", "5", cov_r5_k5), ("LTN LDA Cov", "5", "7", cov_r5_k7),
    ("LDA", "6", "10", lda_r6_k10), ("LDA", "6", "7", lda_r6_k7),
    ("LTN LDA", "6", "10", ltn_r6_k10), ("LTN LDA", "6", "7", ltn_r6_k7),
    ("LTN LDA Cov", "6", "10", cov_r6_k10), ("LTN LDA Cov", "6", "7", cov_r6_k7),
    ("LDA", "7", "10", lda_r7_k10), ("LDA", "7", "7", lda_r7_k7),
    ("LTN LDA", "7", "10", ltn_r7_k10), ("LTN LDA", "7", "7", ltn_r7_k7),
    ("LTN LDA Cov", "7", "10", cov_r7_k10), ("LTN LDA Cov", "7", "7", cov_r7_k7),
    ("LDA", "8", "10", lda_r8_k10), ("LTN LDA", "8", "10", ltn_r8_k10), ("LTN LDA Cov", "8", "10", cov_r8_k10),
    ("LDA", "9", "10", lda_r9_k10), ("LTN LDA", "9", "10", ltn_r9_k10), ("LTN LDA Cov", "9", "10", cov_r9_k10),
    ("LDA", "10", "10", lda_r10_k10), ("LTN LDA", "10", "10", ltn_r10_k10), ("LTN LDA Cov", "10", "10", cov_r10_k10),
]

rows = []
for method, sub, k, vals in series_table:
    for a, v in zip(asv, vals):
        rows.append({"method": method, "sub": sub, "K": k, "asv": a, "value": v})
df = pd.DataFrame(rows)

palette = {"10": "#d84a4a", "4": "#117a11", "5": "#1a1aff", "7": "#000000"}

sns.set_style("white")
plt.rcParams["font.family"] = ["Liberation Sans", "DejaVu Sans"]

W, H = 1137, 736
fig = plt.figure(figsize=(W / 100, H / 100), dpi=100)

col_left = [35, 351, 667]
col_w = 308
row_top0 = 56.8
row_step = 66.5
row_h = 59

def fx(px):
    return px / W

def fy(py):
    return 1 - py / H

for ci, m in enumerate(methods):
    for ri, s in enumerate(row_labels):
        top = row_top0 + row_step * ri
        ax = fig.add_axes([fx(col_left[ci]), fy(top + row_h), col_w / W, row_h / H])
        sub_df = df[(df["method"] == m) & (df["sub"] == s)]
        present = [k for k in subcomm_levels if k in set(sub_df["K"])]
        sns.lineplot(data=sub_df, x="asv", y="value", hue="K", hue_order=present,
                     palette=palette, ax=ax, legend=False, linewidth=0.8, alpha=0.85)
        ax.set_xlim(-1.45, 52.45)
        ax.set_ylim(-0.042, 0.882)
        ax.set_xlabel("")
        ax.set_ylabel("")
        for sp in ["top", "right"]:
            ax.spines[sp].set_visible(False)
        ax.spines["left"].set_visible(ci == 0)
        ax.spines["bottom"].set_visible(ri == len(row_labels) - 1)
        ax.spines["left"].set_linewidth(1.0)
        ax.spines["bottom"].set_linewidth(1.0)
        ax.spines["left"].set_color("black")
        ax.spines["bottom"].set_color("black")
        ax.set_yticks(y_ticks)
        ax.set_xticks(x_ticks)
        ax.set_yticklabels([f"{t:.1f}" for t in y_ticks])
        ax.tick_params(axis="both", length=2.5, width=0.6, color="#333333",
                       labelsize=7.5, labelcolor="#4D4D4D", pad=1.5)
        if ci != 0:
            ax.tick_params(axis="y", left=False, labelleft=False)
        if ri != len(row_labels) - 1:
            ax.tick_params(axis="x", bottom=False, labelbottom=False)
        ax.set_facecolor("white")
        ax.grid(False)
        if ci == len(methods) - 1:
            x0 = 977.5
            fig.patches.append(Rectangle((fx(x0), fy(top + row_h)), 22 / W, row_h / H,
                                         transform=fig.transFigure, facecolor="white",
                                         edgecolor="black", linewidth=1.1))
            fig.text(fx(x0 + 11), fy(top + row_h / 2), s, rotation=270, ha="center",
                     va="center", fontsize=7.5, color="#1A1A1A")

for ci, m in enumerate(methods):
    fig.patches.append(Rectangle((fx(col_left[ci]), fy(55)), col_w / W, 22 / H,
                                 transform=fig.transFigure, facecolor="white",
                                 edgecolor="black", linewidth=1.1))
    fig.text(fx(col_left[ci] + col_w / 2), fy(44), m, ha="center", va="center",
             fontsize=7.8, color="#1A1A1A")

fig.text(fx(35), fy(17), "Posterior Mean Estimates of ASV-Subcommunity Distributions",
         ha="left", va="center", fontsize=12.3, color="black")

handles = [Line2D([0], [0], color=palette[k], lw=1.0, alpha=0.85) for k in subcomm_levels]
leg = fig.legend(handles, subcomm_levels, title="Subcommunities", loc="upper left",
                 bbox_to_anchor=(fx(1006), fy(328)), frameon=False, fontsize=8.5,
                 title_fontsize=10, handlelength=2.0, handletextpad=1.0,
                 labelspacing=0.85, alignment="left", borderaxespad=0)
leg._legend_box.sep = 9

fig.savefig("out.png", dpi=100, facecolor="white")
